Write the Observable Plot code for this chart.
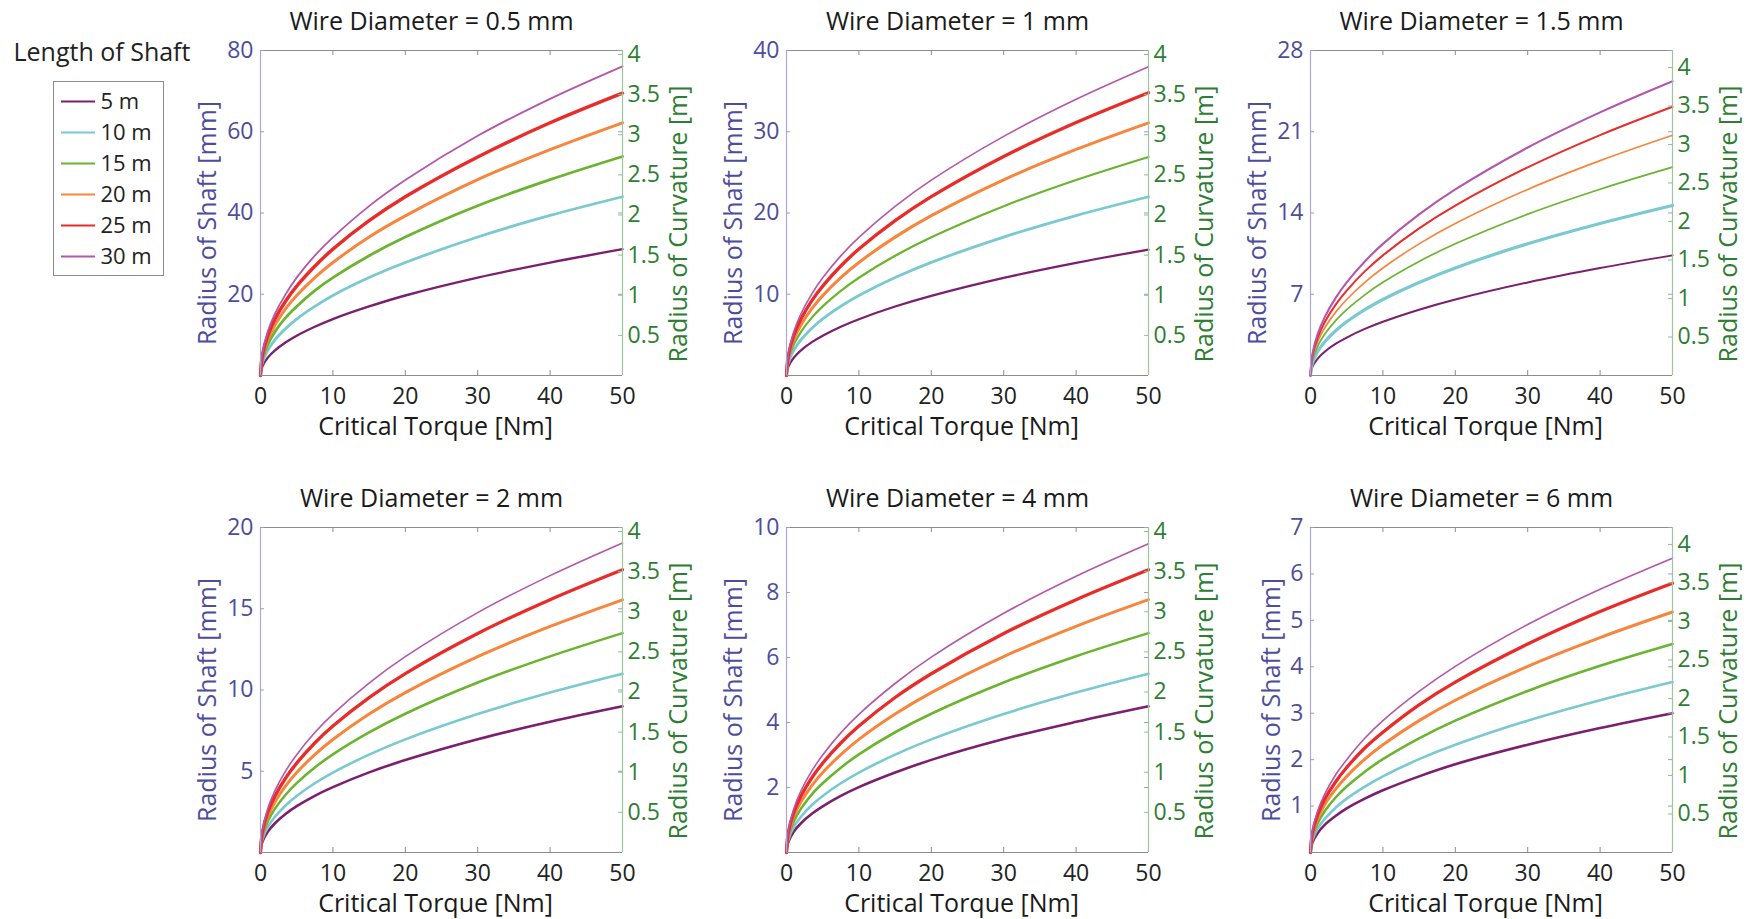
<!DOCTYPE html>
<html><head><meta charset="utf-8">
<script src="https://cdn.jsdelivr.net/npm/d3@7"></script>
<script src="https://cdn.jsdelivr.net/npm/@observablehq/plot@0.6"></script>
<style>
html,body{margin:0;padding:0;background:#fff;overflow:hidden;}
#wrap{position:relative;width:1756px;height:919px;font-family:"Open Sans",sans-serif;}
.panel{position:absolute;}
.panel svg{max-width:none;}
</style></head><body><div id="wrap"></div>
<script>
// ---------- data ----------
const torque = [0, 0.25, 1, 2, 3.5, 5, 7.5, 10, 15, 20, 30, 40, 50];
const shaftLengths = ["5 m", "10 m", "15 m", "20 m", "25 m", "30 m"];
const wireDiameters = ["0.5", "1", "1.5", "2", "4", "6"];
const shaftMax = [80, 40, 28, 20, 10, 7];
const shaftTicks = [[20,40,60,80],[10,20,30,40],[7,14,21,28],[5,10,15,20],[2,4,6,8,10],[1,2,3,4,5,6,7]];
const curvatureMax = [4.05, 4.05, 4.22, 4.05, 4.05, 4.22];
const curvatureTicks = [0.5, 1, 1.5, 2, 2.5, 3, 3.5, 4];
const torqueTicks = [0, 10, 20, 30, 40, 50];

const radius_d05 = [
  [0, 2.2, 4.4, 6.2, 8.2, 9.8, 12.0, 13.9, 17.0, 19.7, 24.1, 27.8, 31.1],
  [0, 3.1, 6.2, 8.8, 11.6, 13.9, 17.0, 19.7, 24.1, 27.8, 34.1, 39.4, 44.0],
  [0, 3.8, 7.6, 10.8, 14.3, 17.0, 20.9, 24.1, 29.5, 34.1, 41.8, 48.2, 53.9],
  [0, 4.4, 8.8, 12.4, 16.5, 19.7, 24.1, 27.8, 34.1, 39.3, 48.2, 55.6, 62.2],
  [0, 4.9, 9.8, 13.9, 18.4, 22.0, 26.9, 31.1, 38.1, 44.0, 53.8, 62.2, 69.5],
  [0, 5.4, 10.8, 15.2, 20.1, 24.1, 29.5, 34.0, 41.7, 48.1, 59.0, 68.1, 76.1]
];
const radius_d1 = [
  [0, 1.1, 2.19, 3.1, 4.1, 4.9, 6.0, 6.93, 8.49, 9.8, 12.01, 13.86, 15.5],
  [0, 1.56, 3.11, 4.4, 5.82, 6.96, 8.52, 9.84, 12.05, 13.92, 17.04, 19.68, 22.0],
  [0, 1.9, 3.8, 5.38, 7.12, 8.51, 10.42, 12.03, 14.73, 17.01, 20.84, 24.06, 26.9],
  [0, 2.2, 4.4, 6.22, 8.23, 9.83, 12.05, 13.91, 17.03, 19.67, 24.09, 27.82, 31.1],
  [0, 2.46, 4.92, 6.96, 9.21, 11.0, 13.48, 15.56, 19.06, 22.01, 26.96, 31.13, 34.8],
  [0, 2.69, 5.37, 7.6, 10.05, 12.02, 14.72, 16.99, 20.81, 24.04, 29.43, 33.99, 38.0]
];
const radius_d15 = [
  [0, 0.73, 1.46, 2.07, 2.74, 3.27, 4.01, 4.63, 5.67, 6.55, 8.02, 9.26, 10.35],
  [0, 1.04, 2.07, 2.93, 3.88, 4.63, 5.67, 6.55, 8.02, 9.27, 11.35, 13.1, 14.65],
  [0, 1.27, 2.54, 3.59, 4.75, 5.68, 6.95, 8.03, 9.83, 11.35, 13.9, 16.05, 17.95],
  [0, 1.46, 2.93, 4.14, 5.48, 6.55, 8.02, 9.26, 11.34, 13.09, 16.03, 18.51, 20.7],
  [0, 1.64, 3.27, 4.63, 6.13, 7.32, 8.97, 10.35, 12.68, 14.64, 17.93, 20.71, 23.15],
  [0, 1.79, 3.58, 5.07, 6.71, 8.02, 9.82, 11.34, 13.88, 16.03, 19.64, 22.67, 25.35]
];
const radius_d2 = [
  [0, 0.64, 1.27, 1.8, 2.38, 2.85, 3.49, 4.02, 4.93, 5.69, 6.97, 8.05, 9.0],
  [0, 0.78, 1.56, 2.2, 2.91, 3.48, 4.26, 4.92, 6.02, 6.96, 8.52, 9.84, 11.0],
  [0, 0.95, 1.91, 2.7, 3.57, 4.27, 5.23, 6.04, 7.39, 8.54, 10.46, 12.07, 13.5],
  [0, 1.1, 2.2, 3.11, 4.11, 4.92, 6.02, 6.95, 8.52, 9.84, 12.05, 13.91, 15.55],
  [0, 1.23, 2.46, 3.48, 4.6, 5.5, 6.74, 7.78, 9.53, 11.01, 13.48, 15.56, 17.4],
  [0, 1.35, 2.69, 3.81, 5.04, 6.02, 7.38, 8.52, 10.43, 12.05, 14.76, 17.04, 19.05]
];
const radius_d4 = [
  [0, 0.32, 0.64, 0.9, 1.19, 1.42, 1.74, 2.01, 2.46, 2.85, 3.49, 4.02, 4.5],
  [0, 0.39, 0.78, 1.1, 1.46, 1.74, 2.13, 2.46, 3.01, 3.48, 4.26, 4.92, 5.5],
  [0, 0.48, 0.95, 1.35, 1.79, 2.13, 2.61, 3.02, 3.7, 4.27, 5.23, 6.04, 6.75],
  [0, 0.55, 1.1, 1.56, 2.06, 2.46, 3.01, 3.48, 4.26, 4.92, 6.03, 6.96, 7.78],
  [0, 0.62, 1.23, 1.74, 2.3, 2.75, 3.37, 3.89, 4.77, 5.5, 6.74, 7.78, 8.7],
  [0, 0.67, 1.34, 1.9, 2.51, 3.0, 3.68, 4.25, 5.2, 6.01, 7.36, 8.5, 9.5]
];
const radius_d6 = [
  [0, 0.21, 0.42, 0.6, 0.79, 0.95, 1.16, 1.34, 1.64, 1.9, 2.32, 2.68, 3.0],
  [0, 0.26, 0.52, 0.73, 0.97, 1.16, 1.42, 1.64, 2.01, 2.32, 2.84, 3.28, 3.67],
  [0, 0.32, 0.63, 0.9, 1.19, 1.42, 1.74, 2.01, 2.46, 2.84, 3.48, 4.02, 4.49],
  [0, 0.37, 0.73, 1.04, 1.37, 1.64, 2.01, 2.32, 2.84, 3.28, 4.01, 4.63, 5.18],
  [0, 0.41, 0.82, 1.16, 1.53, 1.83, 2.25, 2.59, 3.18, 3.67, 4.49, 5.19, 5.8],
  [0, 0.45, 0.9, 1.27, 1.68, 2.0, 2.46, 2.84, 3.47, 4.01, 4.91, 5.67, 6.34]
];
const radii = [radius_d05, radius_d1, radius_d15, radius_d2, radius_d4, radius_d6];

// ---------- styles ----------
const lineColors = ["#7b1f6e", "#7ac9d1", "#6ab42f", "#f7853c", "#e82c2a", "#b457aa"];
const lineWidths = [
  [2.4, 2.8, 2.8, 3, 3.4, 1.8],
  [2.2, 2.8, 2.2, 3, 3.3, 1.6],
  [2, 3.2, 1.7, 1.7, 2, 2.1],
  [2.6, 2.6, 2.6, 3, 3.3, 1.6],
  [2.6, 2.6, 2.6, 3, 3.3, 1.6],
  [2.6, 2.6, 2.6, 3, 3.3, 1.6]
];
const leftColor = "#4d4d9b";
const rightColor = "#2e7d32";
const font = "'Open Sans', sans-serif";
const colLeft = [260, 786, 1310];
const rowTop = [50, 527];
const frameW = 362, frameH = 325;
const mL = 90, mR = 90, mT = 50, mB = 70;
const leftLabelDx = [-53, -53, -53, -53, -53, -39];
const tickFont = 23;

const wrap = document.getElementById("wrap");

function panel(p) {
  const k = shaftMax[p] / curvatureMax[p];
  const marks = [];
  radii[p].forEach((vals, s) => {
    const rows = torque.map((t, i) => ({t, r: vals[i]}));
    marks.push(Plot.line(rows, {x: "t", y: "r", stroke: lineColors[s], strokeWidth: lineWidths[p][s], curve: "catmull-rom"}));
  });
  // frame spines
  marks.push(Plot.ruleY([0, shaftMax[p]], {stroke: "#8c8c8c", strokeWidth: 1}));
  marks.push(Plot.ruleX([0], {stroke: "#a9a9d6", strokeWidth: 1.2}));
  marks.push(Plot.ruleX([50], {stroke: "#9cc69c", strokeWidth: 1.2}));
  // inward ticks
  const inner = torqueTicks.slice(1, -1);
  marks.push(Plot.ruleX(inner, {x: d => d, insetTop: frameH - 5, stroke: "#8c8c8c"}));
  marks.push(Plot.ruleX(inner, {x: d => d, insetBottom: frameH - 5, stroke: "#8c8c8c"}));
  marks.push(Plot.ruleY(shaftTicks[p], {y: d => d, insetRight: frameW - 4, stroke: "#9a9ad0"}));
  marks.push(Plot.ruleY(shaftTicks[p], {y: d => d, insetLeft: frameW - 4, stroke: "#9a9ad0"}));
  marks.push(Plot.ruleY(curvatureTicks, {y: c => c * k, insetLeft: frameW - 4, stroke: "#8fbf8f"}));
  // axes
  marks.push(Plot.axisX({ticks: torqueTicks, tickSize: 0, tickPadding: 12, label: null, color: "#222", fontSize: tickFont, tickFormat: d => String(d)}));
  marks.push(Plot.axisY({ticks: shaftTicks[p], anchor: "left", tickSize: 0, tickPadding: 7, label: null, color: leftColor, fontSize: tickFont, tickFormat: d => String(d)}));
  marks.push(Plot.axisY({ticks: curvatureTicks.map(c => c * k), anchor: "right", tickSize: 0, tickPadding: 5, label: null, color: rightColor, fontSize: tickFont,
    tickFormat: v => String(Math.round(v / k * 10) / 10)}));
  // texts
  marks.push(Plot.text([`Wire Diameter = ${wireDiameters[p]} mm`], {frameAnchor: "top", text: d => d, textAnchor: "middle", dx: -10, dy: -21, lineAnchor: "bottom", fontSize: 25, fill: "#1a1a1a"}));
  marks.push(Plot.text(["Critical Torque [Nm]"], {frameAnchor: "bottom", text: d => d, textAnchor: "middle", dx: -6, dy: 59, lineAnchor: "bottom", fontSize: 25, fill: "#1a1a1a"}));
  marks.push(Plot.text(["Radius of Shaft [mm]"], {frameAnchor: "left", text: d => d, textAnchor: "middle", rotate: -90, dx: leftLabelDx[p], dy: 10, lineAnchor: "middle", fontSize: 25, fill: leftColor}));
  marks.push(Plot.text(["Radius of Curvature [m]"], {frameAnchor: "right", text: d => d, textAnchor: "middle", rotate: -90, dx: 56, dy: 11, lineAnchor: "middle", fontSize: 25, fill: rightColor}));

  const svg = Plot.plot({
    width: mL + frameW + mR, height: mT + frameH + mB,
    marginLeft: mL, marginRight: mR, marginTop: mT, marginBottom: mB,
    x: {domain: [0, 50]},
    y: {domain: [0, shaftMax[p]]},
    style: {fontFamily: font, background: "transparent", overflow: "visible"},
    marks
  });
  const div = document.createElement("div");
  div.className = "panel";
  div.style.left = (colLeft[p % 3] - mL) + "px";
  div.style.top = (rowTop[Math.floor(p / 3)] - mT) + "px";
  div.appendChild(svg);
  wrap.appendChild(div);
}
for (let p = 0; p < 6; p++) panel(p);

// ---------- legend ----------
const legend = Plot.plot({
  width: 163, height: 275,
  marginLeft: 53, marginTop: 81, marginRight: 0, marginBottom: 0,
  x: {domain: [0, 110], range: [53, 163], axis: null},
  y: {type: "point", domain: shaftLengths, range: [99, 257], padding: 0, axis: null},
  style: {fontFamily: font, background: "transparent", overflow: "visible"},
  marks: [
    Plot.frame({stroke: "#8a8a8a"}),
    Plot.ruleY(shaftLengths, {y: d => d, x1: () => 8, x2: () => 42, stroke: d => lineColors[shaftLengths.indexOf(d)], strokeWidth: 2}),
    Plot.text(shaftLengths, {y: d => d, x: () => 47, text: d => d, textAnchor: "start", fontSize: 22, fill: "#222"}),
    Plot.text(["Length of Shaft"], {frameAnchor: "top-left", text: d => d, dx: -40, dy: -21, lineAnchor: "bottom", textAnchor: "start", fontSize: 25, fill: "#222"})
  ]
});
const ldiv = document.createElement("div");
ldiv.className = "panel";
ldiv.style.left = "0px"; ldiv.style.top = "0px";
ldiv.appendChild(legend);
wrap.appendChild(ldiv);
</script></body></html>
